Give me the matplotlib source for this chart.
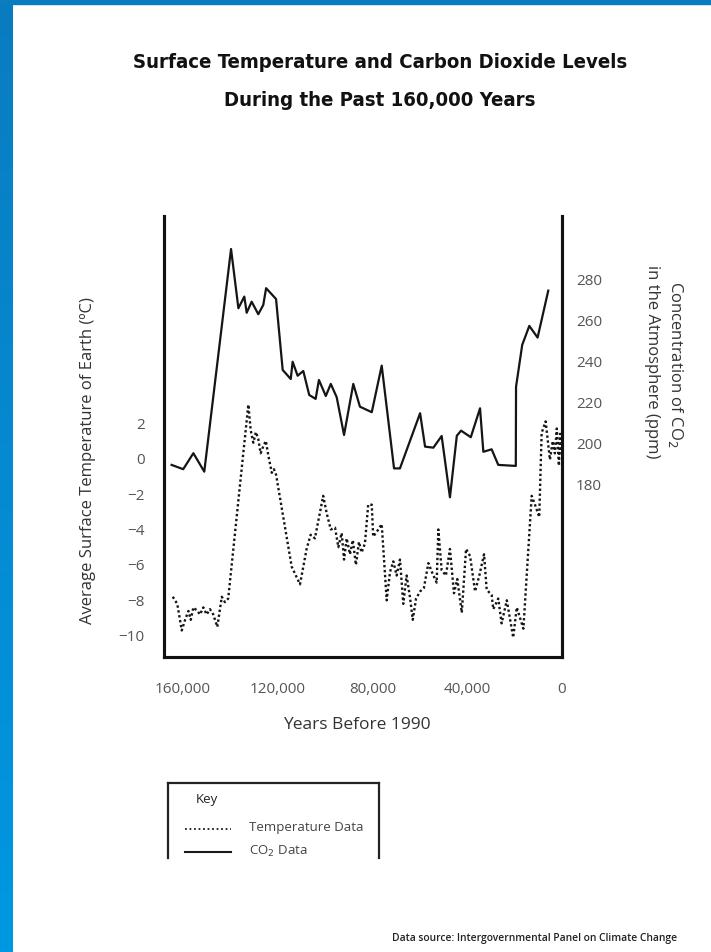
import matplotlib.pyplot as plt
import numpy as np
from matplotlib.colors import LinearSegmentedColormap
from matplotlib.lines import Line2D
from matplotlib.patches import Rectangle
from matplotlib.ticker import FuncFormatter

plt.rcParams['font.family'] = ['Open Sans', 'DejaVu Sans']

W, H = 711, 952

# CO2 record (thousands of years before 1990, ppm)
co2_kyr = [164.8, 159.9, 155.6, 151.0, 139.7, 136.6, 134.1, 133.1, 131.0, 128.2,
           126.1, 124.9, 120.7, 117.9, 114.5, 113.7, 111.6, 109.2, 106.7, 104.0,
           102.6, 99.7, 97.6, 95.1, 92.0, 88.1, 85.3, 80.3, 76.1, 70.9,
           68.4, 59.9, 57.8, 54.3, 50.8, 47.3, 44.4, 42.6, 38.5, 34.6,
           33.2, 29.7, 26.9, 19.5, 19.4, 16.8, 13.8, 10.3, 5.8]
co2_ppm = [189.8, 187.7, 195.5, 186.5, 295.1, 266.2, 271.9, 264.0, 269.4, 263.3,
           267.8, 276.0, 270.7, 236.1, 231.7, 240.1, 233.3, 235.6, 223.9, 222.0,
           231.2, 223.4, 229.3, 222.8, 204.4, 229.3, 218.2, 215.5, 238.2, 188.1,
           188.1, 215.0, 198.7, 198.2, 203.9, 174.0, 204.0, 206.5, 203.3, 217.4,
           196.2, 197.4, 189.8, 189.3, 227.9, 248.3, 257.6, 251.9, 274.8]

# temperature record (thousands of years before 1990, deg C)
temp_kyr = [164.3, 162.4, 160.5, 159.1, 157.7, 156.7, 155.6, 153.9, 152.8, 151.4,
            150.0, 148.6, 147.2, 145.5, 143.6, 142.3, 140.9, 132.4, 131.4, 130.3,
            129.2, 128.2, 127.2, 126.1, 125.0, 124.0, 122.5, 121.6, 120.7, 114.1,
            110.6, 107.8, 106.1, 104.3, 100.8, 99.3, 97.6, 95.8, 94.4, 93.0,
            92.0, 90.9, 89.5, 88.3, 87.0, 85.7, 84.6, 83.2, 81.8, 80.3,
            79.7, 77.5, 76.1, 74.0, 72.6, 71.2, 69.8, 68.4, 67.0, 65.6,
            64.2, 63.0, 61.6, 59.9, 58.3, 56.4, 54.6, 52.9, 52.2, 50.8,
            49.0, 47.3, 45.6, 44.2, 42.3, 40.5, 38.8, 36.7, 34.9, 32.9,
            31.8, 29.7, 29.0, 26.9, 25.5, 23.3, 20.6, 19.1, 16.3, 12.8,
            11.4, 9.6, 8.6, 6.9, 5.1, 3.9, 3.0, 2.2, 1.3, 0.8, 0.5]
temp_c = [-7.8, -8.2, -9.7, -9.1, -8.6, -9.1, -8.4, -8.6, -8.8, -8.4,
          -8.8, -8.5, -8.8, -9.5, -7.8, -8.1, -7.9, 3.05, 1.6, 0.9,
          1.5, 1.1, 0.3, 0.7, 1.0, 0.2, -0.8, -0.6, -0.9, -6.1,
          -7.1, -5.1, -4.3, -4.5, -2.1, -3.1, -4.0, -3.9, -5.0, -4.2,
          -5.7, -4.5, -5.4, -4.6, -6.0, -4.7, -5.3, -4.8, -2.6, -2.6,
          -4.4, -4.0, -3.7, -8.0, -6.4, -5.8, -6.6, -5.7, -8.2, -6.6,
          -7.8, -9.1, -7.9, -7.5, -7.3, -5.9, -6.5, -7.0, -4.0, -6.3,
          -6.6, -5.1, -7.6, -6.8, -8.7, -5.1, -5.5, -7.5, -6.6, -5.4,
          -7.4, -7.7, -8.5, -7.9, -9.3, -8.0, -10.1, -8.4, -9.6, -2.1,
          -2.6, -3.3, 1.45, 2.1, -0.06, 1.0, 0.3, 1.7, -0.4, 1.4, 0.3]

x_ticks = [160, 120, 80, 40, 0]
temp_ticks = [2, 0, -2, -4, -6, -8, -10]
co2_ticks = [280, 260, 240, 220, 200, 180]

title_lines = ['Surface Temperature and Carbon Dioxide Levels',
               'During the Past 160,000 Years']


def fx(px):
    return px / W


def fy(py):
    return 1 - py / H


fig = plt.figure(figsize=(W / 100, H / 100), dpi=100)

# blue frame on the left and top
band = fig.add_axes([0, 0, fx(13), 1])
cmap = LinearSegmentedColormap.from_list('band', ['#0a7cc0', '#0098e2'])
band.imshow(np.linspace(0, 1, 256)[:, None], cmap=cmap, aspect='auto')
band.axis('off')
fig.patches.append(Rectangle((0, fy(4)), 1, 4 / H, color='#0a7cc0',
                             transform=fig.transFigure, zorder=5))

ax = fig.add_axes([fx(164), fy(657), fx(562) - fx(164), fy(216) - fy(657)])
ax2 = ax.twinx()

ax.plot(temp_kyr, temp_c, color='#151515', lw=1.7, linestyle=(0, (1, 1.1)))
ax2.plot(co2_kyr, co2_ppm, color='#151515', lw=1.6)

ax.set_xlim(168.0, 0)
ax.set_ylim(-11.2, 13.7)
ax2.set_ylim(96.1, 311.2)

ax.set_xticks(x_ticks)
ax.xaxis.set_major_formatter(FuncFormatter(lambda v, p: f'{int(v * 1000):,}'))
ax.set_yticks(temp_ticks)
ax2.set_yticks(co2_ticks)

for a in (ax, ax2):
    a.spines['top'].set_visible(False)
    for s in ('left', 'right', 'bottom'):
        a.spines[s].set_linewidth(2.2)
        a.spines[s].set_color('#111111')
ax.tick_params(axis='x', length=0, pad=18, labelsize=11, labelcolor='#555555')
ax.tick_params(axis='y', length=0, pad=14, labelsize=11, labelcolor='#555555')
ax2.tick_params(axis='y', length=0, pad=10, labelsize=11, labelcolor='#555555')

# titles and axis labels
for i, line in enumerate(title_lines):
    fig.text(fx(380), fy(62 + 38 * i), line, ha='center', va='center',
             fontsize=14.6, fontweight='bold', fontstretch='condensed',
             family='DejaVu Sans', color='#111111')
fig.text(fx(88), fy(461), 'Average Surface Temperature of Earth (ºC)', rotation=90,
         ha='center', va='center', fontsize=12, color='#333333')
fig.text(fx(675), fy(364), 'Concentration of CO$_2$', rotation=-90,
         ha='center', va='center', fontsize=12, color='#333333')
fig.text(fx(652), fy(362), 'in the Atmosphere (ppm)', rotation=-90,
         ha='center', va='center', fontsize=12, color='#333333')
fig.text(fx(357), fy(725), 'Years Before 1990', ha='center', va='center',
         fontsize=12.5, color='#333333')

# key box
box_kw = dict(color='#222222', lw=1.6, transform=fig.transFigure)
fig.add_artist(Line2D([fx(168), fx(379)], [fy(783), fy(783)], **box_kw))
fig.add_artist(Line2D([fx(168), fx(168)], [fy(783), fy(858)], **box_kw))
fig.add_artist(Line2D([fx(379), fx(379)], [fy(783), fy(858)], **box_kw))
fig.text(fx(196), fy(800), 'Key', ha='left', va='center', fontsize=9.5, color='#222222')
fig.add_artist(Line2D([fx(185), fx(231)], [fy(829), fy(829)], color='#1a1a1a', lw=1.3,
                      linestyle=(0, (1, 1.5)), transform=fig.transFigure))
fig.add_artist(Line2D([fx(185), fx(231)], [fy(852), fy(852)], color='#1a1a1a', lw=1.5,
                      transform=fig.transFigure))
fig.text(fx(249), fy(828), 'Temperature Data', ha='left', va='center', fontsize=9.5,
         color='#444444')
fig.text(fx(249), fy(851), 'CO$_2$ Data', ha='left', va='center', fontsize=9.5,
         color='#444444')

fig.text(fx(392), fy(938), 'Data source: Intergovernmental Panel on Climate Change',
         ha='left', va='center', fontsize=7.4, fontweight='semibold', color='#222222')

fig.savefig('out.png', dpi=100, facecolor='white')
